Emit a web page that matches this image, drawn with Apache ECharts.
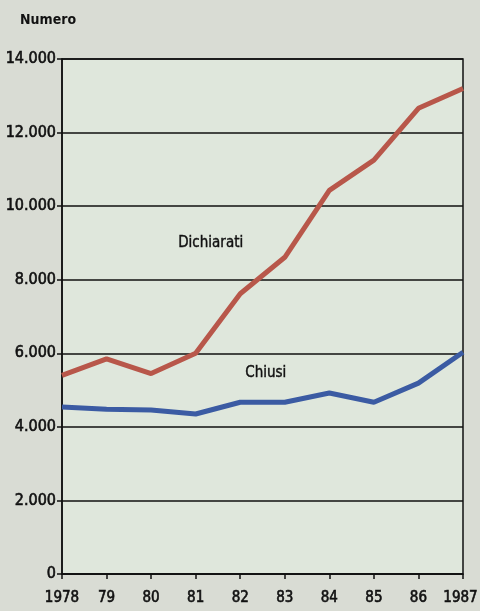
<!DOCTYPE html>
<html>
<head>
<meta charset="utf-8">
<script src="https://cdn.jsdelivr.net/npm/echarts@6/dist/echarts.min.js"></script>
<style>
html,body{margin:0;padding:0;background:#d9dcd4;}
#chart{width:480px;height:611px;}
</style>
</head>
<body>
<div id="chart"></div>
<script>
var years = ['1978','79','80','81','82','83','84','85','86','1987'];
var dichiarati = [5400, 5850, 5450, 6000, 7620, 8610, 10430, 11250, 12660, 13200];
var chiusi = [4540, 4480, 4460, 4350, 4670, 4670, 4920, 4670, 5190, 6030];
var yTicks = [0, 2000, 4000, 6000, 8000, 10000, 12000, 14000];

var FONT = '"DejaVu Sans Condensed", sans-serif';
var chart = echarts.init(document.getElementById('chart'), null, {renderer: 'canvas'});
var labelStyle = {color: '#111', fontFamily: FONT, fontSize: 16, textBorderColor: '#111', textBorderWidth: 0.6};
chart.setOption({
  backgroundColor: '#d9dcd4',
  animation: false,
  grid: {left: 62, right: 17, top: 59, bottom: 37, containLabel: false, outerBoundsMode: 'none',
    show: true, backgroundColor: '#dfe7dc', borderColor: '#111', borderWidth: 1.5},
  xAxis: {
    type: 'category', data: years, boundaryGap: false,
    axisLine: {lineStyle: {color: '#111', width: 1.5}},
    axisTick: {show: true, length: 5, lineStyle: {color: '#111', width: 1.5}},
    axisLabel: Object.assign({}, labelStyle, {margin: 17, interval: 0, fontSize: 15,
      formatter: function (v, i) { return i === years.length - 1 ? '{e|' + v + '}' : v; },
      rich: {e: {fontFamily: FONT, fontSize: 15, color: '#111', textBorderColor: '#111', textBorderWidth: 0.6, padding: [0, 5, 0, 0]}}})
  },
  yAxis: {
    type: 'value', min: 0, max: 14000, interval: 2000,
    axisLine: {show: true, lineStyle: {color: '#111', width: 1.5}},
    axisTick: {show: true, length: 5, lineStyle: {color: '#111', width: 1.5}},
    splitLine: {show: true, lineStyle: {color: '#111', width: 1.6}},
    axisLabel: Object.assign({margin: 6,
      formatter: function (v) { return v === 0 ? '0' : (v / 1000) + '.000'; }}, labelStyle)
  },
  graphic: [
    {type: 'text', left: 20, top: 13, style: {text: 'Numero', font: 'bold 14px ' + FONT, fill: '#111'}},
    {type: 'text', left: 178, top: 235, style: {text: 'Dichiarati', font: '15px ' + FONT, fill: '#111', stroke: '#111', lineWidth: 0.4}},
    {type: 'text', left: 245, top: 365, style: {text: 'Chiusi', font: '15px ' + FONT, fill: '#111', stroke: '#111', lineWidth: 0.4}}
  ],
  series: [
    {name: 'Dichiarati', type: 'line', data: dichiarati, symbol: 'none', lineStyle: {color: '#b8574a', width: 5}},
    {name: 'Chiusi', type: 'line', data: chiusi, symbol: 'none', lineStyle: {color: '#3b5ba3', width: 5}}
  ]
});
</script>
</body>
</html>
